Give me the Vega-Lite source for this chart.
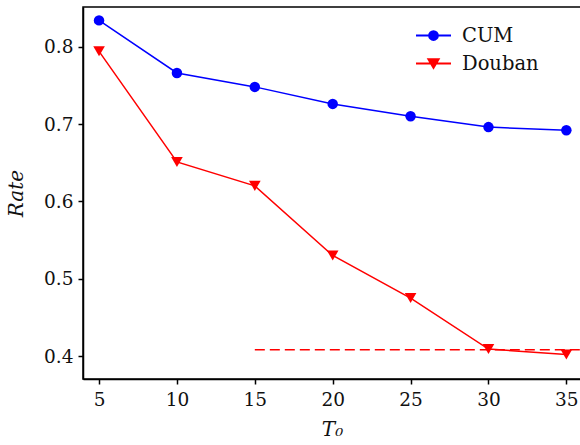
{
  "$schema": "https://vega.github.io/schema/vega-lite/v6.json",
  "width": 498,
  "height": 372,
  "autosize": "none",
  "padding": {"left": 83, "top": 7, "right": 0, "bottom": 66},
  "background": "white",
  "config": {
    "font": "DejaVu Serif",
    "view": {"stroke": "black", "strokeWidth": 1.5},
    "axis": {
      "domainColor": "black",
      "domainWidth": 1.5,
      "tickColor": "black",
      "tickWidth": 1.5,
      "tickSize": 5,
      "grid": false,
      "labelFont": "DejaVu Serif",
      "labelFontSize": 18.5,
      "labelColor": "#111111",
      "titleFont": "DejaVu Serif",
      "titleFontSize": 20,
      "titleFontWeight": "normal",
      "titleFontStyle": "italic",
      "titleColor": "#111111"
    },
    "legend": {
      "labelFont": "DejaVu Serif",
      "labelFontSize": 19.5,
      "labelColor": "#111111"
    }
  },
  "datasets": {
    "rates": [
      {"T0": 5, "Rate": 0.834, "Series": "CUM"},
      {"T0": 10, "Rate": 0.766, "Series": "CUM"},
      {"T0": 15, "Rate": 0.748, "Series": "CUM"},
      {"T0": 20, "Rate": 0.726, "Series": "CUM"},
      {"T0": 25, "Rate": 0.710, "Series": "CUM"},
      {"T0": 30, "Rate": 0.696, "Series": "CUM"},
      {"T0": 35, "Rate": 0.692, "Series": "CUM"},
      {"T0": 5, "Rate": 0.794, "Series": "Douban"},
      {"T0": 10, "Rate": 0.651, "Series": "Douban"},
      {"T0": 15, "Rate": 0.620, "Series": "Douban"},
      {"T0": 20, "Rate": 0.530, "Series": "Douban"},
      {"T0": 25, "Rate": 0.475, "Series": "Douban"},
      {"T0": 30, "Rate": 0.409, "Series": "Douban"},
      {"T0": 35, "Rate": 0.402, "Series": "Douban"}
    ],
    "threshold": [{"start": 15, "end": 36, "level": 0.408}]
  },
  "layer": [
    {
      "data": {"name": "threshold"},
      "mark": {"type": "rule", "color": "#ff0000", "strokeWidth": 1.5, "strokeDash": [10, 5], "clip": true},
      "encoding": {
        "x": {"field": "start", "type": "quantitative"},
        "x2": {"field": "end"},
        "y": {"field": "level", "type": "quantitative"}
      }
    },
    {
      "data": {"name": "rates"},
      "mark": {"type": "line", "strokeWidth": 1.5},
      "encoding": {
        "x": {
          "field": "T0", "type": "quantitative",
          "scale": {"domain": [3.97, 35.94], "nice": false, "zero": false},
          "axis": {"values": [5, 10, 15, 20, 25, 30, 35], "title": "T₀", "labelPadding": 6, "titlePadding": 11}
        },
        "y": {
          "field": "Rate", "type": "quantitative",
          "scale": {"domain": [0.3703, 0.8513], "nice": false, "zero": false},
          "axis": {"values": [0.4, 0.5, 0.6, 0.7, 0.8], "format": ".1f", "title": "Rate", "labelPadding": 5, "titlePadding": 17}
        },
        "stroke": {
          "field": "Series", "type": "nominal",
          "scale": {"domain": ["CUM", "Douban"], "range": ["#0000ff", "#ff0000"]},
          "legend": {
            "title": null,
            "orient": "none",
            "legendX": 332,
            "legendY": 10,
            "padding": 0,
            "symbolSize": 1225,
            "symbolStrokeWidth": 2,
            "labelOffset": 10,
            "rowPadding": -14
          }
        }
      }
    },
    {
      "data": {"name": "rates"},
      "transform": [{"filter": "datum.Series === 'none'"}],
      "mark": {"type": "point", "filled": true, "opacity": 1, "strokeWidth": 2},
      "encoding": {
        "x": {"field": "T0", "type": "quantitative"},
        "y": {"field": "Rate", "type": "quantitative"},
        "stroke": {"field": "Series", "type": "nominal"},
        "fill": {
          "field": "Series", "type": "nominal",
          "scale": {"domain": ["CUM", "Douban"], "range": ["#0000ff", "#ff0000"]}
        },
        "shape": {
          "field": "Series", "type": "nominal",
          "scale": {
            "domain": ["CUM", "Douban"],
            "range": [
              "M-1,0H1M0.25,0A0.25,0.25,0,1,1,-0.25,0A0.25,0.25,0,1,1,0.25,0Z",
              "M-1,0H1M-0.29,-0.25L0.29,-0.25L0,0.25Z"
            ]
          }
        }
      }
    },
    {
      "data": {"name": "rates"},
      "transform": [{"filter": "datum.Series === 'CUM'"}],
      "mark": {"type": "point", "filled": true, "opacity": 1, "shape": "circle", "size": 110, "color": "#0000ff"},
      "encoding": {
        "x": {"field": "T0", "type": "quantitative"},
        "y": {"field": "Rate", "type": "quantitative"}
      }
    },
    {
      "data": {"name": "rates"},
      "transform": [{"filter": "datum.Series === 'Douban'"}],
      "mark": {"type": "point", "filled": true, "opacity": 1, "shape": "triangle-down", "size": 135, "color": "#ff0000"},
      "encoding": {
        "x": {"field": "T0", "type": "quantitative"},
        "y": {"field": "Rate", "type": "quantitative"}
      }
    }
  ]
}
